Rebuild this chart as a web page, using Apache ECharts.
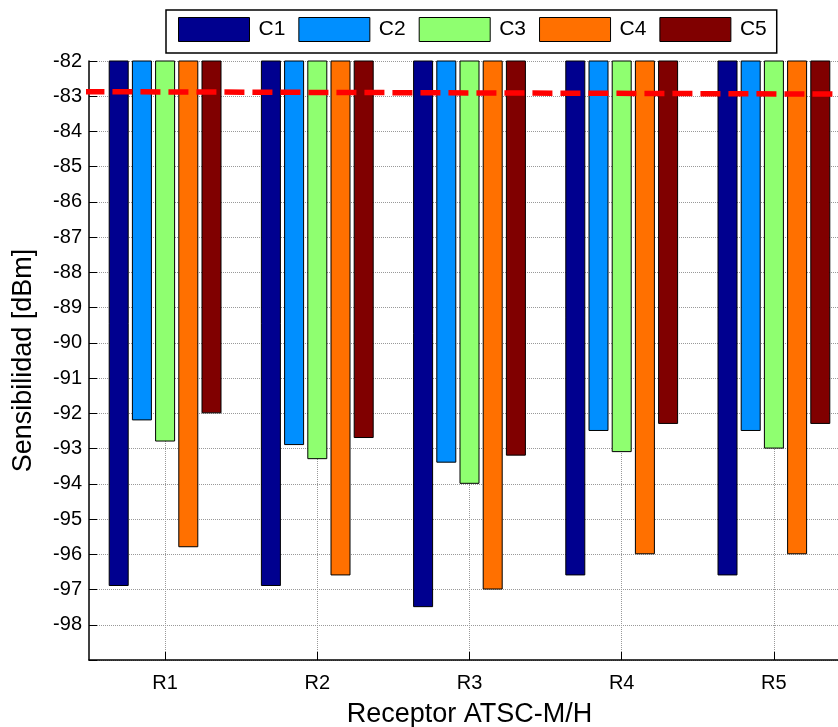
<!DOCTYPE html>
<html>
<head>
<meta charset="utf-8">
<script src="https://cdn.jsdelivr.net/npm/echarts@6/dist/echarts.min.js"></script>
<style>
html,body{margin:0;padding:0;background:#fff;overflow:hidden;}
#chart{width:838px;height:727px;}
</style>
</head>
<body>
<div id="chart"></div>
<script>
const categories = ['R1', 'R2', 'R3', 'R4', 'R5'];
const seriesNames = ['C1', 'C2', 'C3', 'C4', 'C5'];
const C1 = [-96.9, -96.9, -97.5, -96.6, -96.6];
const C2 = [-92.2, -92.9, -93.4, -92.5, -92.5];
const C3 = [-92.8, -93.3, -94.0, -93.1, -93.0];
const C4 = [-95.8, -96.6, -97.0, -96.0, -96.0];
const C5 = [-92.0, -92.7, -93.2, -92.3, -92.3];
const thresholdX = [0.47, 5.5];
const thresholdY = [-82.87, -82.94];
const yMin = -99, yMax = -82;

const colors = ['#00008f', '#008fff', '#8fff70', '#ff7000', '#800000'];
const values = [C1, C2, C3, C4, C5];
const font = 'Liberation Sans, Arial, sans-serif';

const chart = echarts.init(document.getElementById('chart'), null, {renderer: 'canvas'});

const barSeries = seriesNames.map((name, i) => ({
  name: name,
  type: 'bar',
  xAxisIndex: 0,
  yAxisIndex: 0,
  data: values[i],
  barWidth: 20,
  barGap: '16%',
  clip: true,
  itemStyle: {color: colors[i], borderColor: '#000', borderWidth: 1},
  emphasis: {disabled: true},
  z: 2
}));

const option = {
  animation: false,
  backgroundColor: '#fff',
  legend: {
    data: seriesNames,
    left: 166,
    top: 10,
    orient: 'horizontal',
    icon: 'rect',
    padding: [7, 10, 11, 12],
    itemWidth: 71,
    itemHeight: 24,
    itemGap: 13,
    borderColor: '#000',
    borderWidth: 1.5,
    backgroundColor: '#fff',
    textStyle: {fontFamily: font, fontSize: 21, color: '#000', padding: [0, 0, 0, 4]},
    itemStyle: {borderColor: '#000', borderWidth: 1}
  },
  grid: {left: 89, top: 61, width: 761, height: 599, containLabel: false, outerBoundsMode: 'none'},
  xAxis: [{
    type: 'category',
    data: categories,
    boundaryGap: true,
    name: 'Receptor ATSC-M/H',
    nameLocation: 'middle',
    nameGap: 41,
    nameTextStyle: {fontFamily: font, fontSize: 27, color: '#000'},
    axisLine: {show: true, onZero: false, lineStyle: {color: '#000', width: 1.5}},
    axisTick: {show: true, inside: true, alignWithLabel: true, length: 8, lineStyle: {color: '#000', width: 1}},
    axisLabel: {fontFamily: font, fontSize: 20, color: '#000', margin: 13},
    splitLine: {show: true, alignWithLabel: true, lineStyle: {color: '#999', type: [1, 1], width: 1}}
  }, {
    type: 'value',
    min: 0.5,
    max: 5.5,
    show: false
  }],
  yAxis: [{
    type: 'value',
    min: yMin,
    max: yMax,
    interval: 1,
    name: 'Sensibilidad [dBm]',
    nameLocation: 'middle',
    nameGap: 52,
    nameTextStyle: {fontFamily: font, fontSize: 27, color: '#000'},
    axisLine: {show: true, onZero: false, lineStyle: {color: '#000', width: 1.5}},
    axisTick: {show: true, inside: true, length: 8, lineStyle: {color: '#000', width: 1}},
    axisLabel: {
      fontFamily: font, fontSize: 20, color: '#000', margin: 7,
      formatter: v => (v === yMin ? '' : String(v))
    },
    splitLine: {show: true, lineStyle: {color: '#999', type: [1, 1], width: 1}}
  }],
  series: barSeries.concat([{
    name: 'umbral',
    type: 'line',
    xAxisIndex: 1,
    yAxisIndex: 0,
    data: thresholdX.map((x, i) => [x, thresholdY[i]]),
    showSymbol: false,
    symbol: 'none',
    clip: false,
    lineStyle: {color: '#ff0000', width: 5.5, type: [20, 8]},
    emphasis: {disabled: true},
    z: 5
  }])
};

chart.setOption(option);
</script>
</body>
</html>
